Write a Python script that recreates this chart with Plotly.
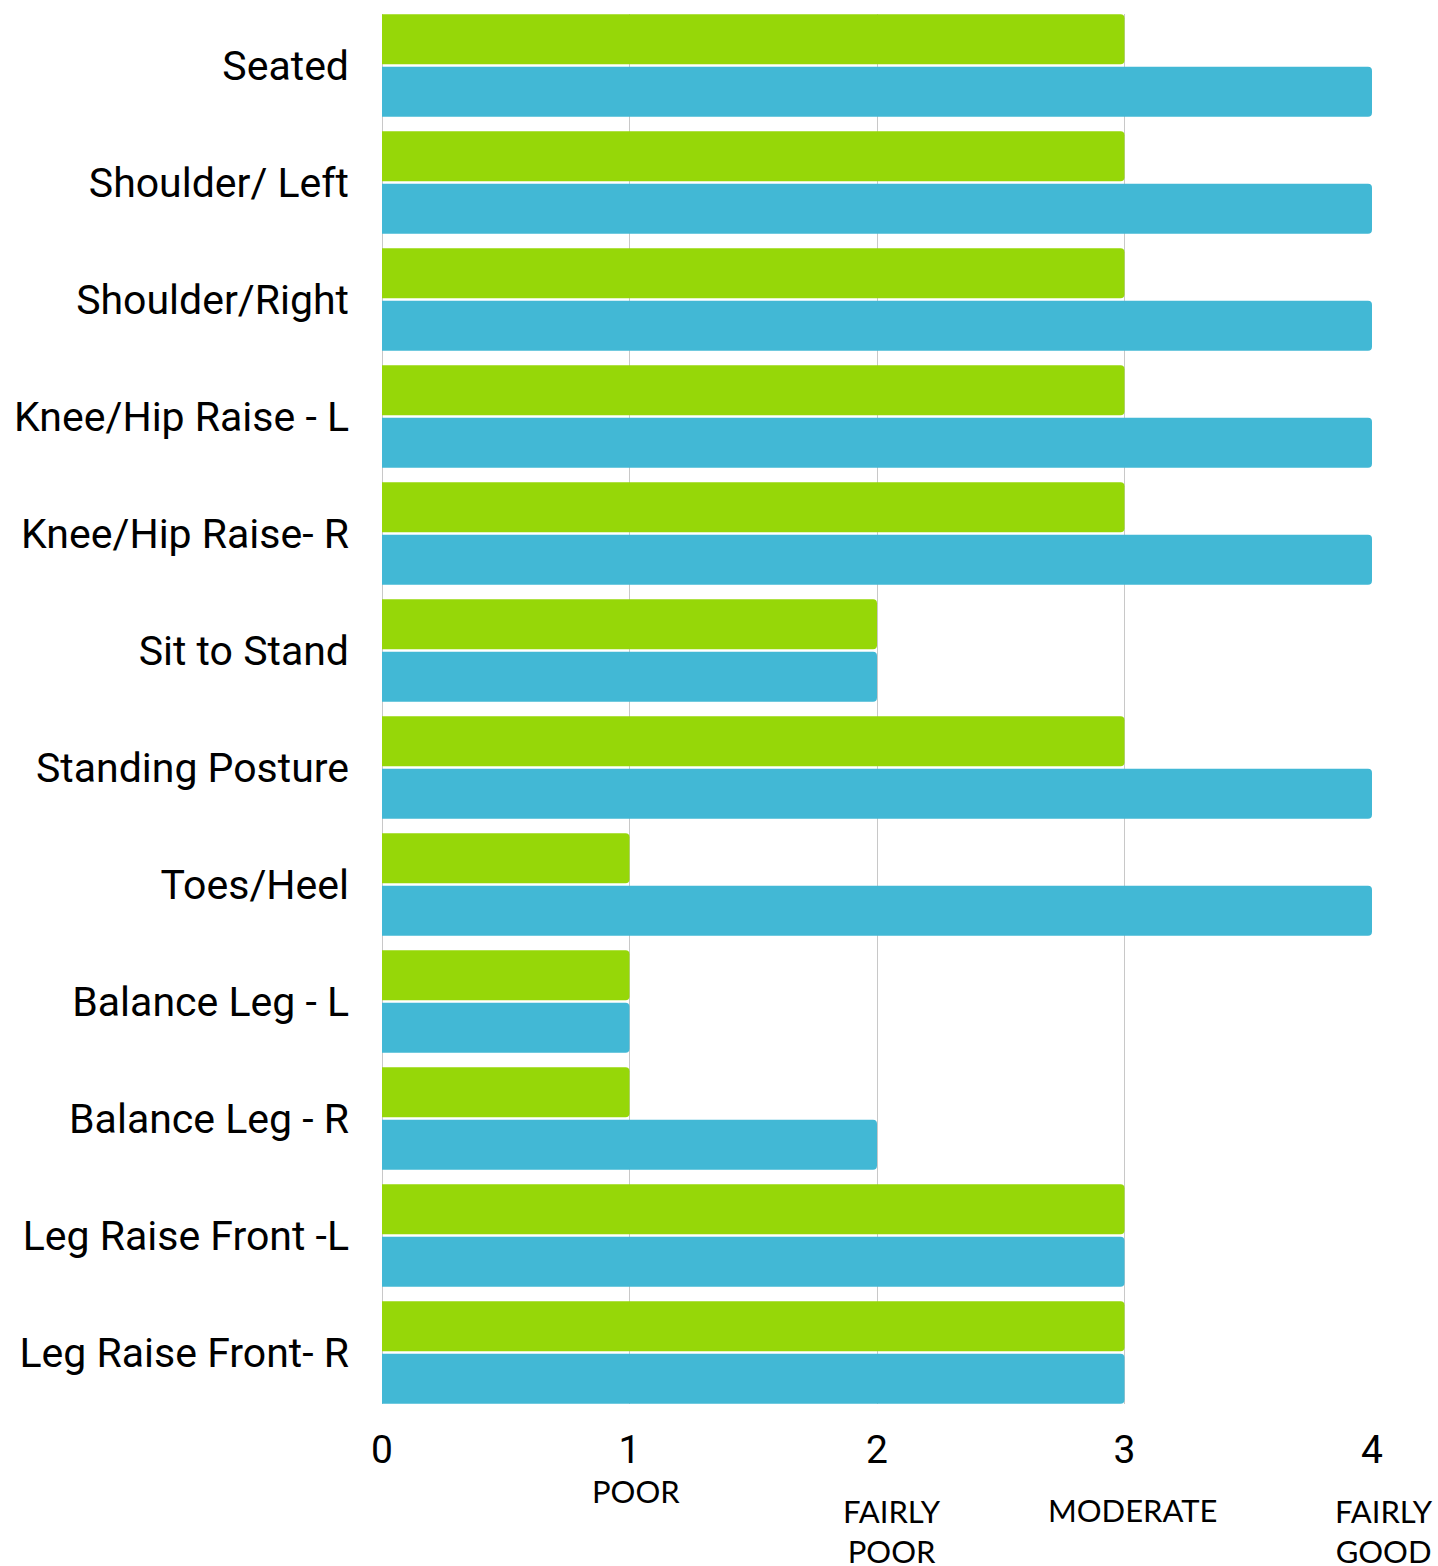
import plotly.graph_objects as go

categories = ["Seated", "Shoulder/ Left", "Shoulder/Right", "Knee/Hip Raise - L",
              "Knee/Hip Raise- R", "Sit to Stand", "Standing Posture", "Toes/Heel",
              "Balance Leg - L", "Balance Leg - R", "Leg Raise Front -L", "Leg Raise Front- R"]
series_green = [3, 3, 3, 3, 3, 2, 3, 1, 1, 1, 3, 3]
series_blue = [4, 4, 4, 4, 4, 2, 4, 4, 1, 2, 3, 3]
x_ticks = [0, 1, 2, 3, 4]
grade_values = [1, 2, 3, 4]
grade_labels = ["POOR", "FAIRLY<br>POOR", "MODERATE", "FAIRLY<br>GOOD"]

GREEN = "#96D708"
BLUE = "#42B8D5"

fig = go.Figure()
fig.add_trace(go.Bar(y=categories, x=series_green, orientation="h",
                     marker=dict(color=GREEN, cornerradius=4, line=dict(width=0)),
                     name="Before", showlegend=False))
fig.add_trace(go.Bar(y=categories, x=series_blue, orientation="h",
                     marker=dict(color=BLUE, cornerradius=4, line=dict(width=0)),
                     name="After", showlegend=False))

fig.update_layout(
    width=1438, height=1566,
    margin=dict(l=382, r=66, t=14, b=162),
    barmode="group", bargap=0.1, bargroupgap=0.05,
    plot_bgcolor="white", paper_bgcolor="white",
    font=dict(family="Roboto", color="#000000"),
)
fig.update_xaxes(range=[0, 4], tickvals=x_ticks, showgrid=True, gridcolor="#C8C8C8",
                 gridwidth=1, zeroline=True, zerolinecolor="#C8C8C8", zerolinewidth=1,
                 tickfont=dict(size=39, family="Roboto"), ticks="", ticklabelstandoff=19)
fig.update_yaxes(categoryorder="array", categoryarray=categories,
                 range=[len(categories) - 0.56, -0.44], showgrid=False,
                 tickfont=dict(size=41, family="Roboto"), ticks="", ticklabelstandoff=32)

shifts = [(6, -87), (15, -127), (8, -106), (12, -127)]
for v, lab, (dx, dy) in zip(grade_values, grade_labels, shifts):
    fig.add_annotation(x=v, y=0, xref="x", yref="paper", text=lab, showarrow=False,
                       xanchor="center", yanchor="middle", xshift=dx, yshift=dy,
                       font=dict(size=31, family="Lato", color="#000000"))

fig.write_html("out.html")
